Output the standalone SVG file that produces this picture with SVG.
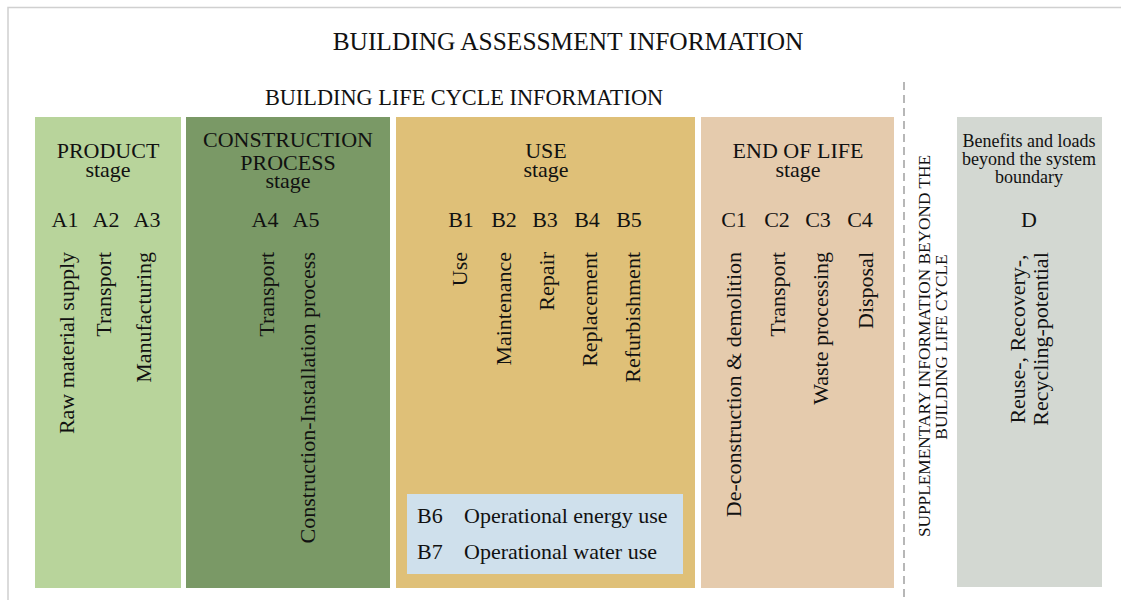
<svg xmlns="http://www.w3.org/2000/svg" width="1121" height="600" viewBox="0 0 1121 600">
<style>
text{font-family:"Liberation Serif","Times New Roman",serif;fill:#111;}
.t22{font-size:22px;}
.mid{text-anchor:middle;}
.v{font-size:22px;text-anchor:end;}
</style>
<rect x="0" y="0" width="1121" height="600" fill="#ffffff"/>
<path d="M8,600 V7.5 H1121" fill="none" stroke="#d0d0d0" stroke-width="1.5"/>
<text x="568" y="50" class="mid" style="font-size:25.4px">BUILDING ASSESSMENT INFORMATION</text>
<text x="464" y="105" class="mid" style="font-size:22.3px">BUILDING LIFE CYCLE INFORMATION</text>
<g id="connectors">
<line x1="904" y1="82" x2="904" y2="600" stroke="#a0a0a0" stroke-width="1.5" stroke-dasharray="8,5"/>
</g>
<g id="product">
<rect x="35" y="117" width="146" height="471" fill="#b8d49b"/>
<text x="108" y="158" class="mid t22">PRODUCT</text>
<text x="108" y="177" class="mid t22">stage</text>
<text x="65" y="227" class="mid t22">A1</text>
<text x="106" y="227" class="mid t22">A2</text>
<text x="147" y="227" class="mid t22">A3</text>
<text transform="translate(74,252) rotate(-90)" class="v">Raw material supply</text>
<text transform="translate(111,252) rotate(-90)" class="v">Transport</text>
<text transform="translate(151,252) rotate(-90)" class="v">Manufacturing</text>
</g>
<g id="construction">
<rect x="186" y="117" width="204" height="471" fill="#7a9966"/>
<text x="288" y="147" class="mid t22">CONSTRUCTION</text>
<text x="288" y="170" class="mid t22">PROCESS</text>
<text x="288" y="188" class="mid t22">stage</text>
<text x="265" y="227" class="mid t22">A4</text>
<text x="306" y="227" class="mid t22">A5</text>
<text transform="translate(274,252) rotate(-90)" class="v">Transport</text>
<text transform="translate(315,252) rotate(-90)" class="v">Construction-Installation process</text>
</g>
<g id="use">
<rect x="396" y="117" width="299" height="471" fill="#dfc078"/>
<text x="546" y="158" class="mid t22">USE</text>
<text x="546" y="177" class="mid t22">stage</text>
<text x="461" y="227" class="mid t22">B1</text>
<text x="504" y="227" class="mid t22">B2</text>
<text x="545" y="227" class="mid t22">B3</text>
<text x="587" y="227" class="mid t22">B4</text>
<text x="629" y="227" class="mid t22">B5</text>
<text transform="translate(467,252) rotate(-90)" class="v">Use</text>
<text transform="translate(511,252) rotate(-90)" class="v">Maintenance</text>
<text transform="translate(554,252) rotate(-90)" class="v">Repair</text>
<text transform="translate(597,252) rotate(-90)" class="v">Replacement</text>
<text transform="translate(640,252) rotate(-90)" class="v">Refurbishment</text>
</g>
<g id="operational">
<rect x="407" y="494" width="276" height="80" fill="#cfe0ec"/>
<text x="417" y="523" class="t22">B6</text>
<text x="464" y="523" class="t22">Operational energy use</text>
<text x="417" y="559" class="t22">B7</text>
<text x="464" y="559" class="t22">Operational water use</text>
</g>
<g id="endoflife">
<rect x="701" y="117" width="193" height="471" fill="#e5cbad"/>
<text x="798" y="158" class="mid t22">END OF LIFE</text>
<text x="798" y="177" class="mid t22">stage</text>
<text x="734" y="227" class="mid t22">C1</text>
<text x="777" y="227" class="mid t22">C2</text>
<text x="818" y="227" class="mid t22">C3</text>
<text x="860" y="227" class="mid t22">C4</text>
<text transform="translate(741,252) rotate(-90)" class="v">De-construction &amp; demolition</text>
<text transform="translate(785,252) rotate(-90)" class="v">Transport</text>
<text transform="translate(828,252) rotate(-90)" class="v">Waste processing</text>
<text transform="translate(873,252) rotate(-90)" class="v">Disposal</text>
</g>
<g id="supplementary">
<text transform="translate(930,346) rotate(-90)" class="mid" style="font-size:17.3px">SUPPLEMENTARY INFORMATION BEYOND THE</text>
<text transform="translate(947,347) rotate(-90)" class="mid" style="font-size:17.3px">BUILDING LIFE CYCLE</text>
</g>
<g id="beyond">
<rect x="957" y="117" width="145" height="470" fill="#d3d8d2"/>
<text x="1029" y="147" class="mid" style="font-size:18px">Benefits and loads</text>
<text x="1029" y="165" class="mid" style="font-size:18px">beyond the system</text>
<text x="1029" y="183" class="mid" style="font-size:18px">boundary</text>
<text x="1029" y="227" class="mid t22">D</text>
<text transform="translate(1025,339) rotate(-90)" class="mid t22">Reuse-, Recovery-,</text>
<text transform="translate(1048,339) rotate(-90)" class="mid t22">Recycling-potential</text>
</g>
</svg>
